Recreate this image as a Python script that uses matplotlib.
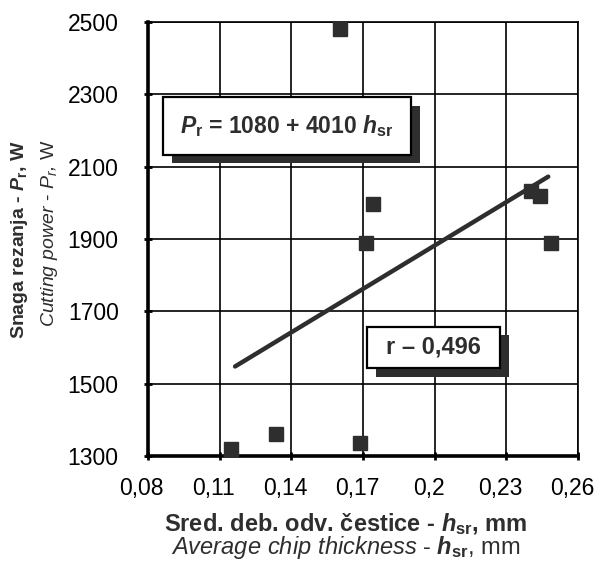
import matplotlib
matplotlib.use("Agg")

import matplotlib.pyplot as plt
import matplotlib.transforms as mtransforms
from matplotlib.patches import Rectangle
from matplotlib.ticker import FuncFormatter
import numpy as np

# ---------------------------------------------------------------------------
# Data
# ---------------------------------------------------------------------------
h_sr = [0.1147, 0.1336, 0.1687, 0.1603, 0.1743, 0.1711, 0.2403, 0.2441, 0.2486]
p_r = [1318, 1359, 1335, 2480, 1997, 1889, 2034, 2019, 1890]

fit_a, fit_b = 1080, 4010
fit_x = [0.1165, 0.2475]

x_ticks = [0.08, 0.11, 0.14, 0.17, 0.20, 0.23, 0.26]
y_ticks = [1300, 1500, 1700, 1900, 2100, 2300, 2500]

eq_label = r"$\mathit{P}_{\mathrm{r}}$ = 1080 + 4010 $\mathit{h}_{\mathrm{sr}}$"
r_label = "r – 0,496"

INK = "#2e2e2e"
FONT = ["Liberation Sans", "DejaVu Sans"]

plt.rcParams["font.family"] = FONT
plt.rcParams["mathtext.fontset"] = "custom"
plt.rcParams["mathtext.rm"] = "Liberation Sans:bold"
plt.rcParams["mathtext.it"] = "Liberation Sans:bold:italic"
plt.rcParams["mathtext.bf"] = "Liberation Sans:bold"
plt.rcParams["mathtext.sf"] = "Liberation Sans:italic"

fig = plt.figure(figsize=(5.96, 5.69), dpi=100, facecolor="white")
ax = fig.add_axes([0.248, 0.199, 0.722, 0.762])

ax.set_xlim(0.08, 0.26)
ax.set_ylim(1300, 2500)
ax.set_xticks(x_ticks)
ax.set_yticks(y_ticks)

def comma_fmt(v, _pos):
    s = f"{v:.2f}".rstrip("0")
    return s.replace(".", ",")

ax.xaxis.set_major_formatter(FuncFormatter(comma_fmt))
ax.tick_params(axis="both", labelsize=16.5, direction="inout", length=6, width=2,
               color="black")
ax.tick_params(axis="x", pad=12)
ax.tick_params(axis="y", pad=18)

# x labels sit a little left of their ticks in the original
shift = mtransforms.ScaledTranslation(-6 / 100, 0, fig.dpi_scale_trans)
for lbl in ax.get_xticklabels():
    lbl.set_transform(lbl.get_transform() + shift)

ax.grid(True, color="black", lw=1.2)
ax.set_axisbelow(True)
for side in ("left", "bottom"):
    ax.spines[side].set_linewidth(2.6)
for side in ("top", "right"):
    ax.spines[side].set_linewidth(1.2)

# fitted line
fx = np.array(fit_x)
ax.plot(fx, fit_a + fit_b * fx, color=INK, lw=3.2, solid_capstyle="round", zorder=3)

# measured points
ax.plot(h_sr, p_r, ls="none", marker="s", ms=10, color=INK, mec=INK,
        clip_on=False, zorder=4)

# ── Text boxes with drop shadow ─────────────────────────────────────────
def shadow_box(x0, x1, y0, y1, text, size):
    dx, dy = 0.0040, -24
    ax.add_patch(Rectangle((x0 + dx, y0 + dy), x1 - x0, y1 - y0,
                           facecolor=INK, edgecolor="none", zorder=5))
    ax.add_patch(Rectangle((x0, y0), x1 - x0, y1 - y0, facecolor="white",
                           edgecolor="black", lw=1.6, zorder=6))
    ax.text((x0 + x1) / 2, (y0 + y1) / 2, text, ha="center", va="center",
            fontsize=size, fontweight="bold", color=INK, zorder=7)

shadow_box(0.0863, 0.1900, 2133, 2293, eq_label, 16.5)
shadow_box(0.1716, 0.2272, 1543, 1657, r_label, 17)

# ── Axis titles ─────────────────────────────────────────────────────────
fig.text(0.033, 0.578, r"Snaga rezanja - $\mathit{P}_{\mathrm{r}}$, W",
         rotation=90, ha="center", va="center", fontsize=14,
         fontweight="bold", color=INK)
fig.text(0.083, 0.590,
         r"$\mathsf{Cutting\ power}$ - $\mathsf{P}_{\mathsf{r}}\mathsf{,}$ W",
         rotation=90, ha="center", va="center", fontsize=14, color=INK)
fig.text(0.58, 0.079, r"Sred. deb. odv. čestice - $\mathit{h}_{\mathrm{sr}}$, mm",
         ha="center", va="center", fontsize=17, fontweight="bold", color=INK)
fig.text(0.58, 0.037,
         r"$\mathsf{Average\ chip\ thickness}$ - $\mathit{h}_{\mathrm{sr}}$, mm",
         ha="center", va="center", fontsize=17, color=INK)

fig.savefig("out.png", dpi=100, facecolor="white")
